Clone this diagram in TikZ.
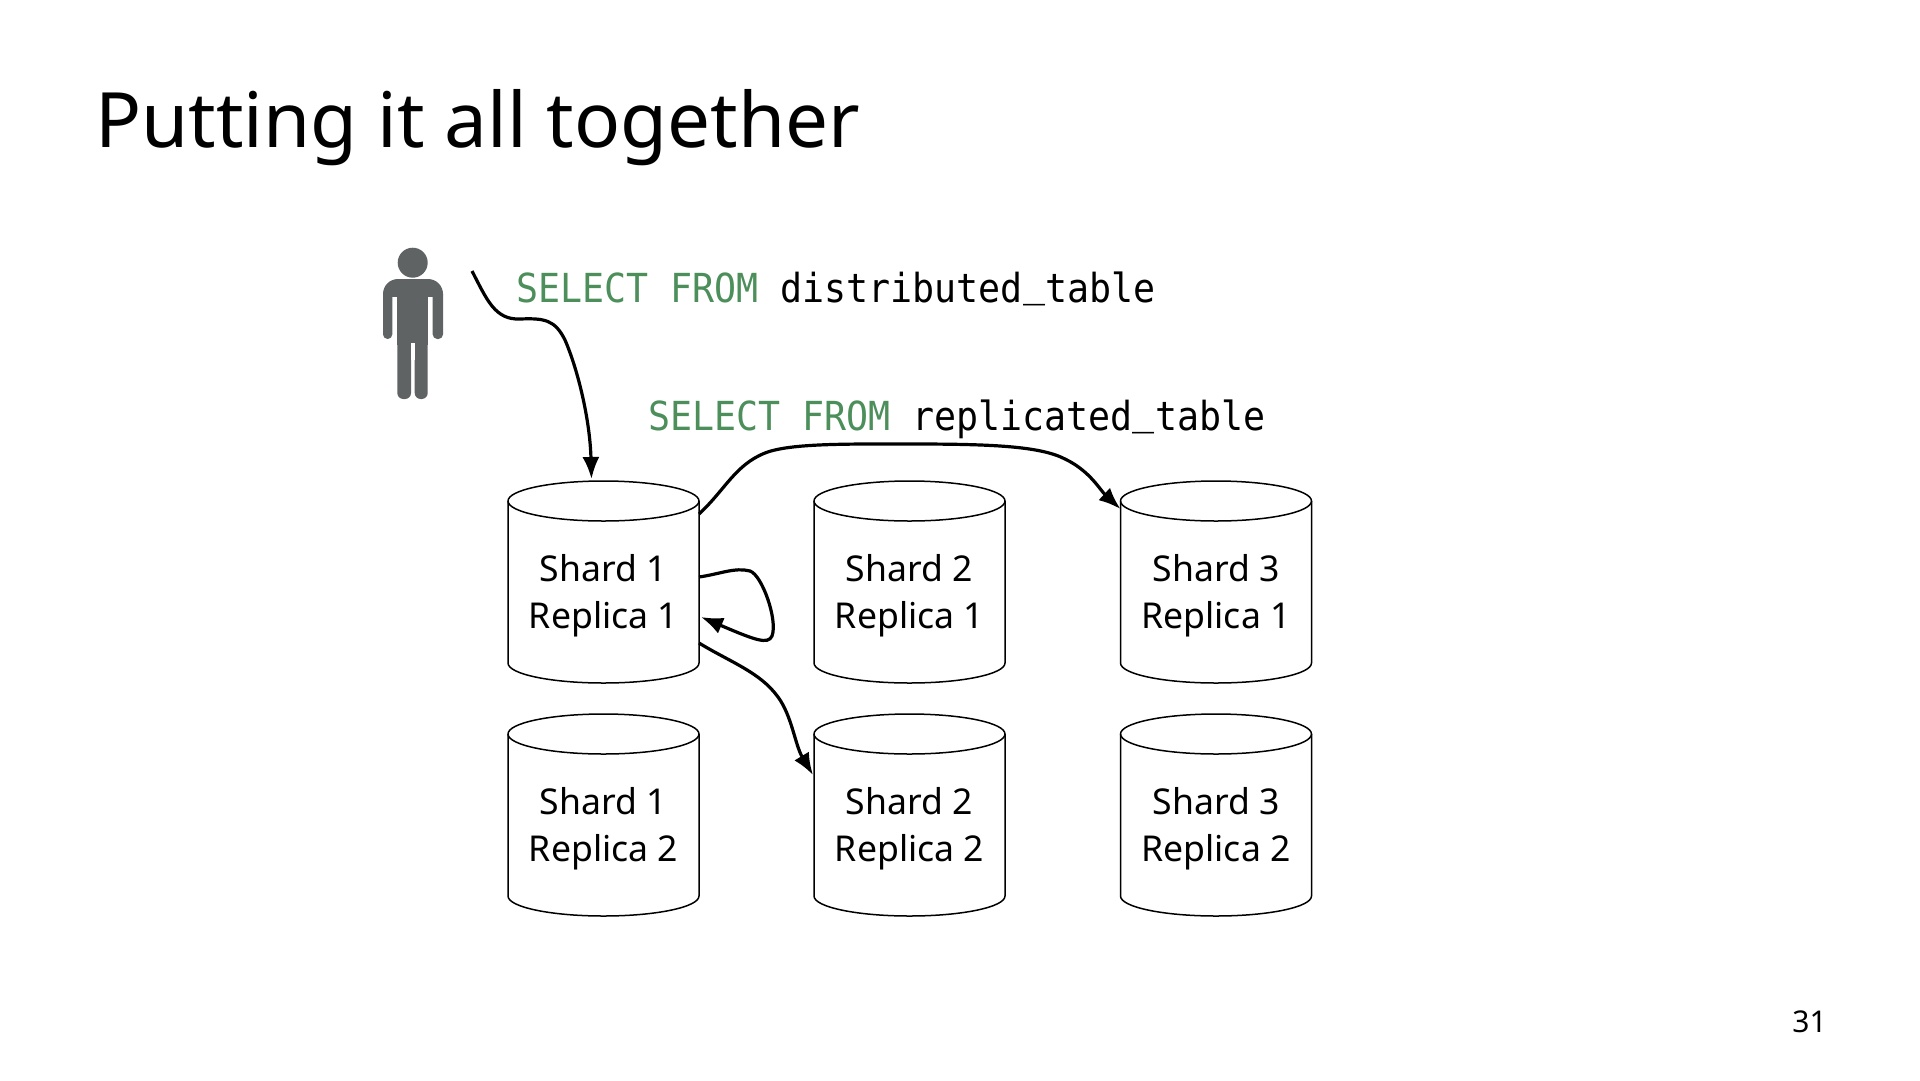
\documentclass[tikz,border=0pt]{standalone}
\usepackage{fontspec}
\setmainfont{Noto Sans}
\setmonofont[FakeStretch=0.915]{DejaVu Sans Mono}
\usetikzlibrary{arrows.meta,calc}
\definecolor{sqlgreen}{HTML}{4C8F5A}
\definecolor{figgrey}{HTML}{5F6363}
\newcommand{\lowbar}{\raisebox{6pt}{\_}}
\tikzset{
  x=1pt,y=-1pt,
  drumbox/.style={minimum width=191pt,minimum height=202pt,inner sep=0pt,outer sep=0pt},
  drumline/.style={line width=1.5pt,black},
  drumtext/.style={align=center,font=\fontsize{35.6}{47}\selectfont,inner sep=0pt},
  flow/.style={line width=3.2pt,black,-{Latex[length=22pt,width=17pt]}},
  sql/.style={anchor=base west,inner sep=0pt,font=\fontsize{40}{46}\selectfont\ttfamily},
  person/.style={fill=figgrey,draw=none}
}
\newcommand{\drumat}[5]{%
  \node[drumbox] (#1) at (#2,#3) {};
  \draw[drumline,fill=white] ($(#1.north west)+(0,20)$) -- ($(#1.south west)+(0,-20)$)
     arc[start angle=180,end angle=360,x radius=95.5pt,y radius=20pt]
     -- ($(#1.north east)+(0,20)$);
  \draw[drumline] ($(#1.north west)+(0,20)$)
     arc[start angle=180,end angle=-180,x radius=95.5pt,y radius=20pt];
  \node[drumtext] (#1t) at ($(#1.center)+(0,13.5)$) {Shard #4\\Replica #5};
}
\begin{document}
\begin{tikzpicture}
\useasboundingbox (0,0) rectangle (1920,1080);
\fill[white] (0,0) rectangle (1920,1080);
\node[anchor=base west,inner sep=0pt,font=\fontsize{76.4}{80}\selectfont] (title) at (95,147) {Putting it all together};
\node[anchor=base east,inner sep=0pt,font=\fontsize{30}{34}\selectfont] (pagenum) at (1827,1032) {31};

% person
\node[circle,person,minimum size=30pt,inner sep=0pt] (head) at (412.7,262.7) {};
\fill[person,rounded corners=15pt] (383,310) -- (383,279) -- (443,279) -- (443,310) -- cycle;
\fill[white] (392.3,297) rectangle (433,315);
\fill[person,rounded corners=4.6pt] (383,290) rectangle (392.3,339);
\fill[person,rounded corners=4.6pt] (432.7,290) rectangle (443,339);
\fill[person] (397.3,285) rectangle (427.7,345);
\fill[person,rounded corners=6pt] (397.3,320) rectangle (411,399);
\fill[person,rounded corners=6pt] (414.7,320) rectangle (427.7,399);
\fill[white] (411,343) rectangle (414.7,360);
\coordinate (userend) at (472,271);

\node[sql] (q1) at (516,302) {\textcolor{sqlgreen}{SELECT FROM} distributed\lowbar table};
\node[sql] (q2) at (648,430) {\textcolor{sqlgreen}{SELECT FROM} replicated\lowbar table};

\drumat{a1}{603.5}{582}{1}{1}
\drumat{b1}{909.5}{582}{2}{1}
\drumat{c1}{1216}{582}{3}{1}
\drumat{a2}{603.5}{815}{1}{2}
\drumat{b2}{909.5}{815}{2}{2}
\drumat{c2}{1216}{815}{3}{2}

\draw[flow] (userend) .. controls (487,300) and (495,320) .. (520,319)
  .. controls (545,318) and (555,320) .. (565,340)
  .. controls (578,370) and (590,420) .. ($(a1.north)+(-12,-2)$);
\draw[flow] ($(a1.north east)+(0,33)$) .. controls (725,490) and (735,465) .. (765,453)
  .. controls (790,443) and (850,444) .. (912,444)
  .. controls (990,444) and (1040,446) .. (1065,459)
  .. controls (1090,471) and (1100,490) .. ($(c1.north west)+(0,28)$);
\draw[flow] ($(a1.east)+(0,-5)$) .. controls (720,574) and (735,567) .. (750,571)
  .. controls (762,575) and (778,620) .. (772,636)
  .. controls (768,645) and (755,640) .. ($(a1.east)+(2,35)$);
\draw[flow] ($(a1.east)+(0,61)$) .. controls (730,662) and (760,672) .. (778,697)
  .. controls (792,716) and (795,745) .. ($(b2.north west)+(-1,61)$);
\end{tikzpicture}
\end{document}
